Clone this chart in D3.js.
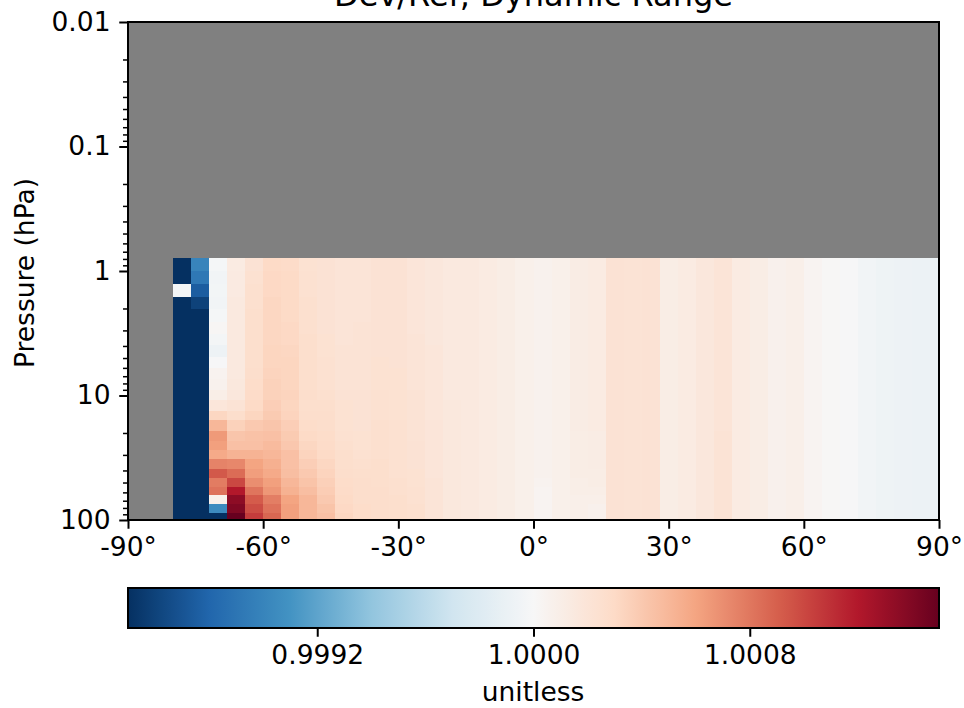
<!DOCTYPE html>
<html>
<head>
<meta charset="utf-8">
<script src="https://cdn.jsdelivr.net/npm/d3@7"></script>
<style>
  body { margin: 0; background: #fff; }
  text { font-family: "DejaVu Sans", sans-serif; }
</style>
</head>
<body>
<div id="chart"></div>
<script>
// latitude edges of the data columns (deg); everything south of -80 is missing
const latEdges = [-80,-76,-72,-68,-64,-60,-56,-52,-48,-44,-40,-36,-32,-28,-24,-20,-16,-12,-8,-4,
    0,4,8,12,16,20,24,28,32,36,40,44,48,52,56,60,64,68,72,76,80,84,88,90];

// pressure edges of the levels, top to bottom (hPa)
const presEdges = [0.782,1.0,1.27,1.62,2.02,2.55,3.19,3.93,4.87,6.05,7.37,8.98,10.9,13.2,15.8,
    19.2,23.1,27.5,32.5,38.7,45.7,54.0,63.0,73.9,87.4,100];

// Dev/Ref ratio minus 1, in units of 1e-5; one array per latitude column, levels top to bottom
const devCols = [
  [-300,-300,-3,-300,-300,-300,-300,-300,-300,-300,-300,-300,-300,-300,-300,-300,-300,-300,-300,-300,-300,-300,-300,-300,-300],
  [-100,-108,-125,-140,-300,-300,-300,-300,-300,-300,-300,-300,-300,-300,-300,-300,-300,-300,-300,-300,-300,-300,-300,-300,-300],
  [-2,-5,-4,-5,-2,2,-3,-8,-1,5,6,10,18,32,50,65,62,57,75,93,78,82,8,-95,-300],
  [13,14,14,15,15,15,15,15,15,15,16,17,21,27,35,42,45,52,73,85,100,120,135,140,155],
  [22,24,25,25,26,26,26,26,26,27,28,29,30,33,40,44,45,52,60,63,70,81,92,98,105],
  [30,31,31,32,32,32,32,33,33,34,35,35,37,39,42,45,48,50,54,57,62,66,77,82,87],
  [29,30,30,30,30,31,31,32,33,33,33,34,33,34,37,39,41,45,45,46,50,53,60,62,62],
  [23,24,24,25,25,25,26,26,26,26,26,27,26,27,28,30,32,34,37,40,43,46,50,50,50],
  [22,22,22,22,22,22,23,23,24,24,24,25,26,27,27,28,29,30,32,34,36,38,40,43,45],
  [20,20,20,20,20,20,20,21,21,21,21,22,23,23,23,24,25,26,26,27,28,29,30,31,32],
  [20,20,20,20,20,21,21,21,21,21,21,22,22,22,22,23,23,24,25,26,27,27,27,28,28],
  [22,22,22,22,22,22,22,22,23,23,23,24,24,24,25,25,25,25,26,26,26,27,27,27,27],
  [22,22,22,22,22,22,22,22,22,23,23,23,23,23,24,24,24,24,24,24,25,25,26,26,26],
  [19,19,19,19,19,19,20,20,20,20,20,21,21,21,21,21,22,22,22,23,23,24,24,25,25],
  [17,17,17,17,17,17,17,18,18,18,18,18,18,18,19,19,19,19,19,19,20,20,20,20,20],
  [15,15,15,15,15,15,15,15,15,15,15,15,16,16,16,16,16,16,16,16,16,16,16,16,16],
  [15,15,15,15,15,15,15,15,15,15,15,15,15,15,15,15,15,15,15,15,15,15,15,15,15],
  [13,13,13,13,13,13,13,13,13,13,13,13,13,13,13,13,13,13,13,13,13,13,13,13,13],
  [11,11,11,11,11,11,11,11,11,11,11,11,11,11,11,11,11,11,11,11,11,11,11,11,11],
  [8,8,8,8,8,8,8,8,8,8,8,8,8,8,8,8,8,8,8,8,8,8,8,8,8],
  [6,6,6,6,6,6,6,6,6,6,6,6,6,6,6,6,6,6,6,6,5,4,4,4,4],
  [8,8,8,8,8,8,8,8,8,8,8,8,8,8,8,8,8,8,8,8,8,8,8,8,8],
  [12,12,12,12,12,12,12,12,12,12,12,12,12,12,12,11,11,11,11,11,10,10,9,9,9],
  [13,13,13,13,13,13,13,13,13,13,13,13,13,13,13,12,12,12,12,11,11,10,9,7,7],
  [22,22,22,22,22,22,22,22,22,22,22,22,22,22,22,22,22,22,22,22,22,22,22,22,22],
  [21,21,21,21,21,21,21,21,21,21,21,21,21,21,21,21,21,21,21,21,21,21,21,21,21],
  [22,22,22,22,22,22,22,22,22,22,22,22,22,22,22,22,22,22,22,22,22,22,22,22,22],
  [11,11,11,11,11,11,11,11,11,11,11,11,11,11,11,11,11,11,11,11,11,11,11,11,11],
  [13,13,13,13,13,13,13,13,13,13,13,13,13,13,13,13,13,13,13,13,13,13,13,13,13],
  [17,17,17,17,17,17,17,17,17,17,17,17,17,17,17,17,17,17,17,17,17,17,17,17,17],
  [20,20,20,20,20,20,20,20,20,20,20,20,20,20,20,21,21,21,21,21,21,21,21,21,21],
  [13,13,13,13,13,13,13,13,13,13,13,13,13,13,13,13,13,13,13,13,13,13,13,13,13],
  [11,11,11,11,11,11,11,11,11,11,11,11,11,11,11,11,11,11,11,11,11,11,11,11,11],
  [7,7,7,7,7,7,7,7,7,7,7,7,7,7,7,7,7,7,7,7,7,7,7,7,7],
  [9,9,9,9,9,9,9,9,9,9,9,9,9,9,9,9,9,9,9,9,9,9,9,9,9],
  [4,4,4,4,4,4,4,4,4,4,4,4,4,4,4,4,4,4,4,4,4,4,4,4,4],
  [1,1,1,1,1,1,1,1,1,1,1,1,1,1,1,1,1,1,1,1,1,1,1,1,1],
  [-1,-1,-1,-1,-1,-1,-1,-1,-1,-1,-1,-1,-1,-1,-1,-1,-1,-1,-1,-1,-1,-1,-1,-1,-1],
  [-5,-5,-5,-5,-5,-5,-5,-5,-5,-5,-5,-5,-5,-5,-5,-5,-5,-5,-5,-5,-5,-5,-5,-5,-5],
  [-7,-7,-7,-7,-7,-7,-7,-7,-7,-7,-7,-7,-7,-7,-7,-7,-7,-7,-7,-7,-7,-7,-7,-7,-7],
  [-8,-8,-8,-8,-8,-8,-8,-8,-8,-8,-8,-8,-8,-8,-8,-8,-8,-8,-8,-8,-8,-8,-8,-8,-8],
  [-9,-9,-9,-9,-9,-9,-9,-9,-9,-9,-9,-9,-9,-9,-9,-9,-9,-9,-9,-9,-9,-9,-9,-9,-9],
  [-9,-9,-9,-9,-9,-9,-9,-9,-9,-9,-9,-9,-9,-9,-9,-9,-9,-9,-9,-9,-9,-9,-9,-9,-9]
];

const xTicks = [-90,-60,-30,0,30,60,90];
const yTicks = [0.01,0.1,1,10,100];
const cbTicks = [0.9992,1.0,1.0008];
const cbRange = [0.9985,1.0015];

const W = 964, H = 708;
const FS = 26.5;
const svg = d3.select('#chart').append('svg')
    .attr('width', W)
    .attr('height', H);

const x = d3.scaleLinear().domain([-90, 90]).range([128, 939]);
const y = d3.scaleLog().domain([100, 0.01]).range([520, 22]);

// RdBu_r, piecewise linear between the 11 brewer colours
const rdbu = d3.schemeRdBu[11].slice().reverse();
const color = d3.scaleLinear()
    .domain(d3.range(11).map(i => cbRange[0] + i * (cbRange[1] - cbRange[0]) / 10))
    .range(rdbu)
    .clamp(true);

// Flatten cells
const cells = [];
devCols.forEach((col, j) => {
    col.forEach((d, i) => {
        cells.push({ lat0: latEdges[j], lat1: latEdges[j + 1], p0: presEdges[i], p1: presEdges[i + 1], v: 1 + d * 1e-5 });
    });
});

// Missing data background
svg.append('rect')
    .attr('x', x(-90)).attr('y', y(0.01))
    .attr('width', x(90) - x(-90)).attr('height', y(100) - y(0.01))
    .attr('fill', '#808080');

const clip = svg.append('clipPath').attr('id', 'plotclip');
clip.append('rect')
    .attr('x', x(-90)).attr('y', y(0.01))
    .attr('width', x(90) - x(-90)).attr('height', y(100) - y(0.01));

svg.append('g')
    .attr('clip-path', 'url(#plotclip)')
    .attr('shape-rendering', 'crispEdges')
    .selectAll('rect')
    .data(cells)
    .join('rect')
    .attr('x', d => x(d.lat0))
    .attr('y', d => y(d.p0))
    .attr('width', d => x(d.lat1) - x(d.lat0) + 0.6)
    .attr('height', d => y(d.p1) - y(d.p0) + 0.6)
    .attr('fill', d => color(d.v));

// Axes
function styleAxis(g) {
    g.select('.domain').remove();
    g.selectAll('.tick line').attr('stroke', '#000').attr('stroke-width', 2);
    g.selectAll('.tick text').attr('fill', '#000').attr('font-size', FS).attr('font-family', '"DejaVu Sans", sans-serif');
}

const minorY = [];
[0.01, 0.1, 1, 10].forEach(dec => {
    for (let k = 2; k <= 9; k++) minorY.push(k * dec);
});

svg.append('g')
    .attr('transform', 'translate(128,0)')
    .call(d3.axisLeft(y).tickValues(minorY).tickSize(5).tickFormat(''))
    .call(g => { styleAxis(g); g.selectAll('.tick line').attr('stroke-width', 1.5); });

svg.append('g')
    .attr('transform', 'translate(128,0)')
    .call(d3.axisLeft(y).tickValues(yTicks).tickSize(8.75).tickPadding(8.75).tickFormat(d => String(d)))
    .call(styleAxis);

svg.append('g')
    .attr('transform', 'translate(0,520)')
    .call(d3.axisBottom(x).tickValues(xTicks).tickSize(8.75).tickPadding(8.75).tickFormat(d => d + '°'))
    .call(styleAxis);

// Frame
svg.append('rect')
    .attr('x', x(-90)).attr('y', y(0.01))
    .attr('width', x(90) - x(-90)).attr('height', y(100) - y(0.01))
    .attr('fill', 'none').attr('stroke', '#000').attr('stroke-width', 2);

// Title and axis label
svg.append('text')
    .attr('x', (x(-90) + x(90)) / 2).attr('y', 6)
    .attr('text-anchor', 'middle').attr('font-size', 32)
    .text('Dev/Ref, Dynamic Range');

svg.append('text')
    .attr('transform', 'translate(34,273) rotate(-90)')
    .attr('text-anchor', 'middle').attr('font-size', FS)
    .text('Pressure (hPa)');

// Colorbar
const cb = d3.scaleLinear().domain(cbRange).range([128, 939]);
const grad = svg.append('defs').append('linearGradient')
    .attr('id', 'cbgrad').attr('x1', '0%').attr('x2', '100%').attr('y1', '0%').attr('y2', '0%');
grad.selectAll('stop')
    .data(d3.range(0, 1.0001, 0.02))
    .join('stop')
    .attr('offset', d => (d * 100) + '%')
    .attr('stop-color', d => color(cbRange[0] + d * (cbRange[1] - cbRange[0])));

svg.append('rect')
    .attr('x', 128).attr('y', 588)
    .attr('width', 811).attr('height', 40)
    .attr('fill', 'url(#cbgrad)')
    .attr('stroke', '#000').attr('stroke-width', 2);

svg.append('g')
    .attr('transform', 'translate(0,628)')
    .call(d3.axisBottom(cb).tickValues(cbTicks).tickSize(8.75).tickPadding(8.75).tickFormat(d3.format('.4f')))
    .call(styleAxis);

svg.append('text')
    .attr('x', 533).attr('y', 701)
    .attr('text-anchor', 'middle').attr('font-size', FS)
    .text('unitless');
</script>
</body>
</html>
